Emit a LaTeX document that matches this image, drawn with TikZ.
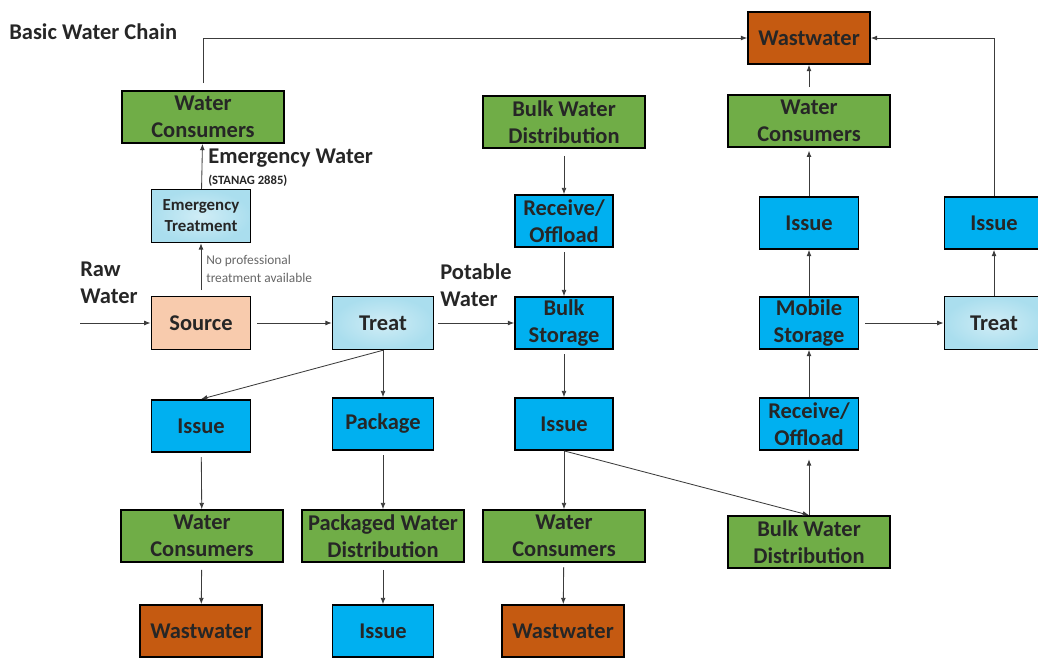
\documentclass[tikz,border=0pt]{standalone}
\usepackage{fontspec}
\setmainfont{Carlito}
\usetikzlibrary{arrows.meta}
\definecolor{consgreen}{RGB}{112,173,71}
\definecolor{issueblue}{RGB}{0,176,240}
\definecolor{wastebrown}{RGB}{197,90,17}
\definecolor{srcpeach}{RGB}{248,203,173}
\definecolor{treatcyan}{RGB}{170,222,238}
\definecolor{linegray}{RGB}{60,60,60}
\tikzset{>={Latex[length=4.5pt,width=3.5pt]}}
\tikzset{
  box/.style={draw=black, line width=1.2pt, align=center, inner sep=0pt,
    font=\bfseries\fontsize{16}{19}\selectfont, text=black!85},
  consbox/.style={box, fill=consgreen, minimum width=4.05cm, minimum height=1.3cm},
  issuebox/.style={box, fill=issueblue, minimum width=2.48cm, minimum height=1.3cm},
  wastebox/.style={box, fill=wastebrown, minimum width=3.05cm, minimum height=1.3cm},
  srcbox/.style={box, fill=srcpeach, minimum width=2.48cm, minimum height=1.32cm},
  treatbox/.style={box, inner color=treatcyan!55, outer color=treatcyan,
    minimum width=2.52cm, minimum height=1.32cm},
  lbl/.style={inner sep=0pt, align=left, anchor=west, font=\bfseries\fontsize{16}{19}\selectfont, text=black!85},
  flow/.style={->, draw=linegray, line width=0.6pt}
}

\begin{document}
\begin{tikzpicture}[x=0.025cm, y=-0.025cm]
  \clip (0,0) rectangle (1038,660);
  % labels
  \node[lbl] (ttl) at (9,32) {Basic Water Chain};
  \node[lbl] (rawlbl) at (80,283) {Raw\\Water};
  \node[lbl] (potlbl) at (440,285) {Potable\\Water};
  \node[lbl] (emlbl) at (208,158) {Emergency Water};
  \node[lbl, font=\bfseries\fontsize{9}{11}\selectfont] (stanag) at (208,181) {(STANAG 2885)};
  \node[lbl, font=\fontsize{9.5}{12.8}\selectfont, text=black!60] (nopro) at (206,269)
    {No professional\\treatment available};
  % left part
  \coordinate (rawin) at (80,323);
  \node[consbox] (wcA) at (203,117) {Water\\Consumers};
  \node[treatbox, minimum width=2.48cm, font=\bfseries\fontsize{12}{15}\selectfont] (emt) at (201,216) {Emergency\\Treatment};
  \node[srcbox] (src) at (201,323) {Source};
  \node[treatbox] (trA) at (383,323) {Treat};
  \node[issuebox] (isA) at (201,426) {Issue};
  \node[issuebox, minimum width=2.52cm] (pkg) at (383,424) {Package};
  \node[consbox] (wcB) at (202,536) {Water\\Consumers};
  \node[consbox] (pwd) at (383,536) {Packaged Water\\Distribution};
  \node[wastebox] (wwA) at (201,631) {Wastwater};
  \node[issuebox, minimum width=2.52cm] (isB) at (383,631) {Issue};
  % middle part
  \node[consbox] (bwdA) at (564,122) {Bulk Water\\Distribution};
  \node[issuebox, minimum width=2.45cm] (rcvA) at (564,221) {Receive/\\Offload};
  \node[issuebox, minimum width=2.45cm] (bst) at (564,323) {Bulk\\Storage};
  \node[issuebox, minimum width=2.45cm] (isC) at (564,424) {Issue};
  \node[consbox] (wcC) at (564,536) {Water\\Consumers};
  \node[wastebox] (wwB) at (563,631) {Wastwater};
  % right part
  \node[wastebox] (wwT) at (809,38) {Wastwater};
  \node[consbox] (wcD) at (809,121) {Water\\Consumers};
  \node[issuebox] (isD) at (809,223) {Issue};
  \node[issuebox] (mob) at (809,323) {Mobile\\Storage};
  \node[issuebox] (rcvB) at (809,424) {Receive/\\Offload};
  \node[consbox] (bwdB) at (809,542) {Bulk Water\\Distribution};
  \node[treatbox, minimum width=2.48cm] (trB) at (994,323) {Treat};
  \node[issuebox] (isE) at (994,223) {Issue};
  % arrows
  \draw[flow] (rawin) -- (src);
  \draw[flow, shorten <=4pt] (src) -- (trA);
  \draw[flow, shorten <=3pt] (trA) -- (bst);
  \draw[flow, shorten <=4pt] (src) -- (emt);
  \draw[flow] (emt) -- (wcA);
  \draw[flow, shorten <=5pt] (wcA.north) |- (wwT);
  \draw[flow] (trA.south) -- (isA.north);
  \draw[flow] (trA) -- (pkg);
  \draw[flow, shorten <=3pt] (isA) -- (wcB);
  \draw[flow, shorten <=3pt] (pkg) -- (pwd);
  \draw[flow, shorten <=5pt] (wcB) -- (wwA);
  \draw[flow, shorten <=5pt] (pwd) -- (isB);
  \draw[flow, shorten <=5pt] (bwdA) -- (rcvA);
  \draw[flow, shorten <=3pt] (rcvA) -- (bst);
  \draw[flow, shorten <=3pt] (bst) -- (isC);
  \draw[flow] (isC) -- (wcC);
  \draw[flow, shorten <=3pt] (wcC) -- (wwB);
  \draw[flow] (isC.south) -- (bwdB.north);
  \draw[flow, shorten >=6pt] (bwdB.north) -- (rcvB.south);
  \draw[flow] (rcvB) -- (mob);
  \draw[flow] (mob) -- (isD);
  \draw[flow, shorten >=2pt] (isD) -- (wcD);
  \draw[flow, shorten <=5pt] (wcD) -- (wwT);
  \draw[flow, shorten <=4pt] (mob) -- (trB);
  \draw[flow] (trB) -- (isE);
  \draw[flow] (isE.north) |- (wwT);
\end{tikzpicture}
\end{document}
